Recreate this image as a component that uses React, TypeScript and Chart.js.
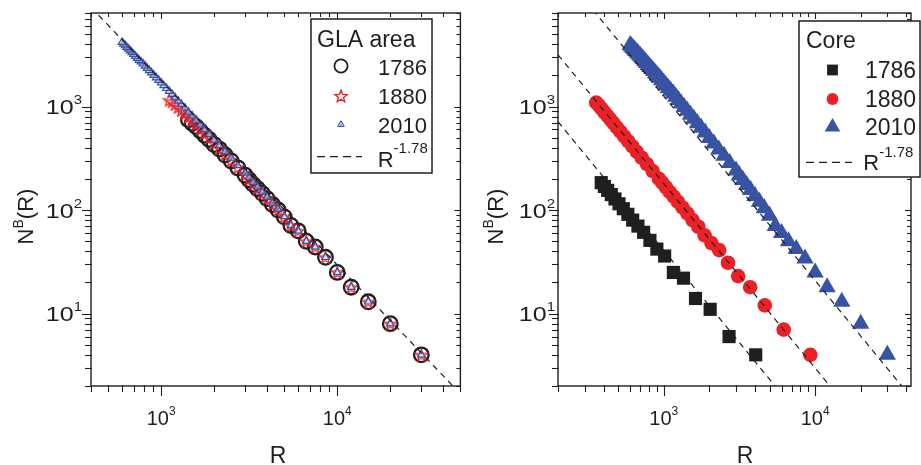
import React, { useEffect, useRef } from 'react';
import { Chart, registerables } from 'chart.js';

Chart.register(...registerables);

// ---------------- data ----------------
// GLA area: box size R and box count N^B(R)
const glaR = [30000, 20000, 15000, 12000, 10000, 8571, 7500, 6667, 6000, 5455, 5000, 4615, 4286, 4000, 3750, 3529, 3333, 3158, 3000, 2727, 2500, 2308, 2143, 2000, 1875, 1765, 1667, 1579, 1500, 1429, 1364, 1304, 1250, 1200, 1154, 1111, 1071, 1034, 1000, 968, 938, 909, 882, 857, 833, 811, 789, 769, 750, 732, 714, 698, 682, 667, 652, 638, 625, 612, 600];
const gla1786N = [4, 8, 13, 18, 25, 35, 44, 50, 63, 71, 86, 100, 113, 129, 145, 161, 177, 196, 217, 255, 298, 340, 388, 429, 481, 529, 584, 640, 689, 743];
const gla1880N = [4, 8, 13, 18, 25, 35, 44, 50, 63, 71, 86, 100, 114, 130, 145, 162, 179, 199, 219, 258, 302, 345, 395, 443, 499, 551, 607, 669, 726, 786, 854, 917, 982, 1047, 1114, 1150];
const gla2010N = [4, 8, 13, 18, 25, 35, 44, 50, 63, 71, 87, 102, 116, 133, 149, 167, 185, 206, 228, 270, 318, 366, 422, 477, 540, 601, 667, 740, 810, 884, 968, 1048, 1131, 1216, 1314, 1406, 1500, 1596, 1697, 1798, 1901, 2011, 2121, 2233, 2347, 2465, 2586, 2707, 2807, 2934, 3063, 3194, 3327, 3463, 3600, 3740, 3881, 4027, 4175];

// Core
const core1786R = [4050, 2700, 2025, 1620, 1350, 1157, 1013, 900, 810, 736, 675, 623, 579, 540, 506, 476, 450, 426, 405, 386];
const core1786N = [4, 6, 11, 14, 22, 25, 36, 42, 51, 61, 70, 80, 91, 103, 115, 128, 141, 155, 169, 184];
const core1880R = [9300, 6200, 4650, 3720, 3100, 2657, 2325, 2067, 1860, 1691, 1550, 1431, 1329, 1240, 1163, 1094, 1033, 979, 930, 845, 775, 715, 664, 620, 581, 547, 517, 489, 465, 443, 423, 404, 388, 372, 358];
const core1880N = [4, 7, 12, 18, 23, 31, 41, 48, 57, 69, 80, 93, 106, 120, 135, 150, 166, 183, 200, 238, 278, 320, 365, 413, 463, 516, 572, 629, 690, 752, 817, 884, 954, 1025, 1090];
const core2010R = glaR;
const core2010N = [4, 8, 13, 18, 25, 34, 42, 50, 60, 70, 88, 104, 120, 137, 156, 175, 195, 217, 241, 285, 334, 384, 440, 497, 560, 623, 690, 762, 833, 908, 990, 1070, 1153, 1240, 1333, 1422, 1512, 1605, 1700, 1798, 1893, 1995, 2098, 2200, 2300, 2410, 2520, 2630, 2740, 2855, 2970, 3090, 3200, 3320, 3440, 3560, 3680, 3800, 3930];

// fitted power law N ~ C * R^-1.78 (log10 C per line)
const fitExponent = -1.78;
const glaFitLog10C = [8.59];
const coreFitLog10C = [6.95, 7.595, 8.44];

// axes
const glaXRange = [400, 50000];
const coreXRange = [200, 43000];
const yRange = [2, 8000];
const xMajorTicks = [1000, 10000];
const yMajorTicks = [10, 100, 1000];
const legendYears = ['1786', '1880', '2010'];

// ---------------- styling ----------------
const FONT = "'Liberation Sans', Arial, Helvetica, sans-serif";
const INK = '#1f1f1f';
const RED = '#ec2128';
const BLUE = '#3953a4';

function pts(xs: number[], ys: number[]) {
  return ys.map((y, i) => ({ x: xs[i], y }));
}
function fitLine(log10C: number, range: number[]) {
  return range.map((r) => ({ x: r, y: Math.pow(10, log10C) * Math.pow(r, fitExponent) }));
}

function makeStar(outer: number, color: string, lw: number): HTMLCanvasElement {
  const size = Math.ceil(outer * 2 + lw * 2 + 2);
  const c = document.createElement('canvas');
  c.width = size;
  c.height = size;
  const g = c.getContext('2d')!;
  const cx = size / 2;
  const cy = size / 2 + outer * 0.09;
  const inner = outer * 0.42;
  g.beginPath();
  for (let i = 0; i < 10; i++) {
    const r = i % 2 === 0 ? outer : inner;
    const a = -Math.PI / 2 + (i * Math.PI) / 5;
    const px = cx + r * Math.cos(a);
    const py = cy + r * Math.sin(a);
    if (i === 0) g.moveTo(px, py);
    else g.lineTo(px, py);
  }
  g.closePath();
  g.strokeStyle = color;
  g.lineWidth = lw;
  g.lineJoin = 'miter';
  g.stroke();
  return c;
}

type Part = { t: string; sup?: boolean };
function drawParts(
  ctx: CanvasRenderingContext2D,
  parts: Part[],
  x: number,
  y: number,
  size: number,
  supSize: number,
  rise: number,
  align: 'left' | 'center' | 'right',
  sx = 1
) {
  const widths = parts.map((p) => {
    ctx.font = `${p.sup ? supSize : size}px ${FONT}`;
    return ctx.measureText(p.t).width;
  });
  const total = widths.reduce((a, b) => a + b, 0) * sx;
  let x0 = x;
  if (align === 'center') x0 = x - total / 2;
  if (align === 'right') x0 = x - total;
  ctx.save();
  ctx.translate(x0, y);
  ctx.scale(sx, 1);
  ctx.textBaseline = 'alphabetic';
  ctx.textAlign = 'left';
  let cx = 0;
  parts.forEach((p, i) => {
    ctx.font = `${p.sup ? supSize : size}px ${FONT}`;
    ctx.fillText(p.t, cx, p.sup ? -rise : 0);
    cx += widths[i];
  });
  ctx.restore();
}

function logTicks(min: number, max: number) {
  const out: number[] = [];
  for (let e = Math.floor(Math.log10(min)); e <= Math.ceil(Math.log10(max)); e++) {
    for (let m = 1; m <= 9; m++) {
      const v = m * Math.pow(10, e);
      if (v >= min * 0.999 && v <= max * 1.001) out.push(v);
    }
  }
  return out;
}
const isPow10 = (v: number) => Math.abs(Math.log10(v) - Math.round(Math.log10(v))) < 1e-9;

type LegendRow = { kind: 'circleOpen' | 'star' | 'triSmall' | 'square' | 'circle' | 'tri'; label: string };
type Deco = {
  id: string;
  yLabelRight: number;
  yLabelSx: number;
  yTitleX: number;
  xTitleX: number;
  box: number[];
  title: string;
  titleX: number;
  titleBase: number;
  titleSize: number;
  markerX: number;
  markerY: number[];
  textX: number;
  textBase: number[];
  textSize: number;
  rows: LegendRow[];
  dashY: number;
  dash: number[];
  rX: number;
  rBase: number;
  star?: HTMLCanvasElement;
};

function drawMarker(ctx: CanvasRenderingContext2D, kind: LegendRow['kind'], x: number, y: number, star?: HTMLCanvasElement) {
  ctx.save();
  if (kind === 'circleOpen') {
    ctx.beginPath();
    ctx.arc(x, y, 6.6, 0, Math.PI * 2);
    ctx.strokeStyle = INK;
    ctx.lineWidth = 1.8;
    ctx.stroke();
  } else if (kind === 'star' && star) {
    ctx.drawImage(star, x - star.width / 2, y - star.height / 2);
  } else if (kind === 'triSmall') {
    const r = 3.8;
    ctx.beginPath();
    ctx.moveTo(x, y - r);
    ctx.lineTo(x + r * 0.866, y + r / 2);
    ctx.lineTo(x - r * 0.866, y + r / 2);
    ctx.closePath();
    ctx.fillStyle = 'rgba(170,185,230,0.9)';
    ctx.fill();
    ctx.strokeStyle = BLUE;
    ctx.lineWidth = 1;
    ctx.stroke();
  } else if (kind === 'square') {
    ctx.fillStyle = INK;
    ctx.fillRect(x - 5.4, y - 5.4, 10.8, 10.8);
  } else if (kind === 'circle') {
    ctx.beginPath();
    ctx.arc(x, y, 5.9, 0, Math.PI * 2);
    ctx.fillStyle = RED;
    ctx.fill();
  } else if (kind === 'tri') {
    const r = 9;
    ctx.beginPath();
    ctx.moveTo(x, y - r);
    ctx.lineTo(x + r * 0.866, y + r / 2);
    ctx.lineTo(x - r * 0.866, y + r / 2);
    ctx.closePath();
    ctx.fillStyle = BLUE;
    ctx.fill();
  }
  ctx.restore();
}

function decoPlugin(d: Deco) {
  return {
    id: 'deco' + d.id,
    afterDraw(chart: any) {
      const ctx: CanvasRenderingContext2D = chart.ctx;
      const { left, right, top, bottom } = chart.chartArea;
      const xs = chart.scales.x;
      const ys = chart.scales.y;
      ctx.save();
      ctx.strokeStyle = INK;
      ctx.fillStyle = INK;
      const line = (x1: number, y1: number, x2: number, y2: number) => {
        ctx.beginPath();
        ctx.moveTo(x1, y1);
        ctx.lineTo(x2, y2);
        ctx.stroke();
      };
      // frame
      ctx.lineWidth = 1.4;
      ctx.strokeRect(left, top, right - left, bottom - top);
      // tick marks
      ctx.lineWidth = 1.1;
      for (const v of logTicks(xs.min, xs.max)) {
        const px = Math.round(xs.getPixelForValue(v)) + 0.5;
        const major = isPow10(v);
        line(px, bottom - 1, px, bottom + (major ? 10 : 6));
        line(px, top, px, top + (major ? 6 : 4));
      }
      for (const v of logTicks(ys.min, ys.max)) {
        const py = Math.round(ys.getPixelForValue(v)) + 0.5;
        const major = isPow10(v);
        line(left - (major ? 9 : 6), py, left + 1, py);
        line(right, py, right - (major ? 6 : 4), py);
      }
      // tick labels
      for (const v of xMajorTicks) {
        const px = xs.getPixelForValue(v);
        drawParts(ctx, [{ t: '10' }, { t: String(Math.round(Math.log10(v))), sup: true }], px, 425, 20, 12, 10, 'center');
      }
      for (const v of yMajorTicks) {
        const py = ys.getPixelForValue(v);
        drawParts(ctx, [{ t: '10' }, { t: String(Math.round(Math.log10(v))), sup: true }], d.yLabelRight, py + 7.5, 20, 12, 10, 'right', d.yLabelSx);
      }
      // axis titles
      drawParts(ctx, [{ t: 'R' }], d.xTitleX, 463, 23, 14, 10, 'center');
      ctx.save();
      ctx.translate(d.yTitleX, (top + bottom) / 2 + 17);
      ctx.rotate(-Math.PI / 2);
      drawParts(ctx, [{ t: 'N' }, { t: 'B', sup: true }, { t: '(R)' }], 0, 0, 22, 14, 10, 'center');
      ctx.restore();
      // legend
      const [bx1, by1, bx2, by2] = d.box;
      ctx.fillStyle = '#ffffff';
      ctx.fillRect(bx1, by1, bx2 - bx1, by2 - by1);
      ctx.lineWidth = 1.5;
      ctx.strokeStyle = INK;
      ctx.strokeRect(bx1, by1, bx2 - bx1, by2 - by1);
      ctx.fillStyle = INK;
      drawParts(ctx, [{ t: d.title }], d.titleX, d.titleBase, d.titleSize, 12, 0, 'left');
      d.rows.forEach((row, i) => {
        drawMarker(ctx, row.kind, d.markerX, d.markerY[i], d.star);
        ctx.fillStyle = INK;
        drawParts(ctx, [{ t: row.label }], d.textX, d.textBase[i], d.textSize, 12, 0, 'left');
      });
      ctx.lineWidth = 1.2;
      ctx.setLineDash([8, 5]);
      line(d.dash[0], d.dashY, d.dash[1], d.dashY);
      ctx.setLineDash([]);
      drawParts(ctx, [{ t: 'R' }, { t: '-1.78', sup: true }], d.rX, d.rBase, 22, 15, 13.5, 'left');
      ctx.restore();
    },
  };
}

function logAxis(range: number[], size: number, isX: boolean) {
  return {
    type: 'logarithmic' as const,
    min: range[0],
    max: range[1],
    position: isX ? 'bottom' : 'left',
    grid: { display: false, drawTicks: false },
    border: { display: false },
    ticks: { display: false },
    afterFit: (s: any) => {
      if (isX) s.height = size;
      else s.width = size;
    },
  };
}

export default function App() {
  const leftRef = useRef<HTMLCanvasElement>(null);
  const rightRef = useRef<HTMLCanvasElement>(null);

  useEffect(() => {
    const starPoint = makeStar(6.2, RED, 1.3);
    const starLegend = makeStar(6.4, RED, 1.4);

    const leftDeco: Deco = {
      id: 'L',
      yLabelRight: 82,
      yLabelSx: 1.25,
      yTitleX: 33,
      xTitleX: 278,
      box: [311, 19, 432, 173],
      title: 'GLA area',
      titleX: 317,
      titleBase: 46.7,
      titleSize: 23,
      markerX: 341,
      markerY: [66, 96, 124.5],
      textX: 378,
      textBase: [75, 104, 132.7],
      textSize: 22,
      rows: [
        { kind: 'circleOpen', label: legendYears[0] },
        { kind: 'star', label: legendYears[1] },
        { kind: 'triSmall', label: legendYears[2] },
      ],
      dashY: 156.7,
      dash: [317, 362],
      rX: 377.7,
      rBase: 166.7,
      star: starLegend,
    };
    const rightDeco: Deco = {
      id: 'R',
      yLabelRight: 85,
      yLabelSx: 1.25,
      yTitleX: 33,
      xTitleX: 275,
      box: [329, 21, 450, 177],
      title: 'Core',
      titleX: 336,
      titleBase: 48.3,
      titleSize: 23,
      markerX: 362.5,
      markerY: [70, 99, 127],
      textX: 395,
      textBase: [78.3, 106.7, 135],
      textSize: 23,
      rows: [
        { kind: 'square', label: legendYears[0] },
        { kind: 'circle', label: legendYears[1] },
        { kind: 'tri', label: legendYears[2] },
      ],
      dashY: 162.3,
      dash: [336, 382],
      rX: 393.3,
      rBase: 170,
    };

    const fitStyle = {
      showLine: true,
      pointRadius: 0,
      borderColor: INK,
      borderWidth: 1.2,
      borderDash: [6, 5],
      order: 0,
    };

    const left = new Chart(leftRef.current!, {
      type: 'scatter',
      data: {
        datasets: [
          { ...fitStyle, data: fitLine(glaFitLog10C[0], glaXRange) } as any,
          {
            data: pts(glaR, gla2010N),
            pointStyle: 'triangle',
            pointRadius: 4.4,
            borderColor: BLUE,
            backgroundColor: 'rgba(190,202,238,0.55)',
            borderWidth: 1.2,
            order: 1,
          },
          {
            data: pts(glaR, gla1880N),
            pointStyle: starPoint,
            pointRadius: 6,
            order: 2,
          },
          {
            data: pts(glaR, gla1786N),
            pointStyle: 'circle',
            pointRadius: 7.3,
            borderColor: INK,
            backgroundColor: 'rgba(0,0,0,0)',
            borderWidth: 2.3,
            order: 3,
          },
        ],
      },
      options: {
        animation: false,
        responsive: false,
        maintainAspectRatio: false,
        events: [],
        layout: { padding: { top: 13, right: 5, left: 0, bottom: 0 } },
        plugins: { legend: { display: false }, tooltip: { enabled: false } },
        scales: {
          x: logAxis(glaXRange, 79, true) as any,
          y: logAxis(yRange, 91, false) as any,
        },
      },
      plugins: [decoPlugin(leftDeco)],
    });

    const right = new Chart(rightRef.current!, {
      type: 'scatter',
      data: {
        datasets: [
          { ...fitStyle, data: fitLine(coreFitLog10C[0], coreXRange) } as any,
          { ...fitStyle, data: fitLine(coreFitLog10C[1], coreXRange) } as any,
          { ...fitStyle, data: fitLine(coreFitLog10C[2], coreXRange) } as any,
          {
            data: pts(core2010R, core2010N),
            pointStyle: 'triangle',
            pointRadius: 10,
            borderColor: BLUE,
            backgroundColor: BLUE,
            borderWidth: 0,
            order: 1,
          },
          {
            data: pts(core1880R, core1880N),
            pointStyle: 'circle',
            pointRadius: 7.3,
            borderColor: RED,
            backgroundColor: RED,
            borderWidth: 0,
            order: 2,
          },
          {
            data: pts(core1786R, core1786N),
            pointStyle: 'rect',
            pointRadius: 9.3,
            borderColor: INK,
            backgroundColor: INK,
            borderWidth: 0,
            order: 3,
          },
        ],
      },
      options: {
        animation: false,
        responsive: false,
        maintainAspectRatio: false,
        events: [],
        layout: { padding: { top: 13, right: 1, left: 0, bottom: 0 } },
        plugins: { legend: { display: false }, tooltip: { enabled: false } },
        scales: {
          x: logAxis(coreXRange, 79, true) as any,
          y: logAxis(yRange, 88, false) as any,
        },
      },
      plugins: [decoPlugin(rightDeco)],
    });

    return () => {
      left.destroy();
      right.destroy();
    };
  }, []);

  return (
    <div style={{ position: 'fixed', left: 0, top: 0, width: 921, height: 465, background: '#ffffff', overflow: 'hidden' }}>
      <canvas ref={leftRef} width={470} height={465} style={{ position: 'absolute', left: 0, top: 0, width: 470, height: 465 }} />
      <canvas ref={rightRef} width={451} height={465} style={{ position: 'absolute', left: 470, top: 0, width: 451, height: 465 }} />
    </div>
  );
}
